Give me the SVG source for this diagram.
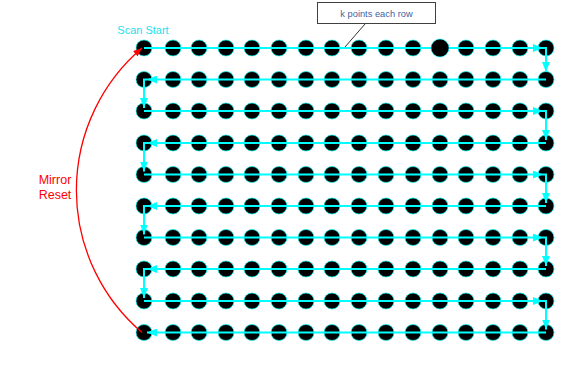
<svg xmlns="http://www.w3.org/2000/svg" xmlns:xlink="http://www.w3.org/1999/xlink" width="581" height="369" viewBox="0 0 581 369">
<style>
.dot{fill:#000;stroke:#00FFFF;stroke-width:0.7}
.scan{fill:none;stroke:#00FFFF;stroke-width:2}
.reset{fill:none;stroke:#FF0000;stroke-width:1.3}
.lbl{font-family:"Liberation Sans",Arial,sans-serif}
</style>
<defs>
<circle id="d" class="dot" r="8"/>
<marker id="ac" viewBox="0 0 10 8" refX="10" refY="4" markerWidth="10" markerHeight="8" orient="auto" markerUnits="userSpaceOnUse"><path d="M0,0 L10,4 L0,8 z" fill="#00FFFF"/></marker>
<marker id="ar" viewBox="0 0 10 8" refX="10" refY="4" markerWidth="10" markerHeight="7" orient="auto" markerUnits="userSpaceOnUse"><path d="M0,0 L10,4 L0,8 z" fill="#FF0000"/></marker>
</defs>
<rect width="581" height="369" fill="#fff"/>
<g id="row1" transform="translate(0,48)"><use href="#d" x="144"/><use href="#d" x="173"/><use href="#d" x="199"/><use href="#d" x="226"/><use href="#d" x="252"/><use href="#d" x="279"/><use href="#d" x="306"/><use href="#d" x="332"/><use href="#d" x="359"/><use href="#d" x="386"/><use href="#d" x="413"/><use href="#d" x="466"/><use href="#d" x="493"/><use href="#d" x="520"/><use href="#d" x="546"/></g>
<g id="row2" transform="translate(0,79.5)"><use href="#d" x="144"/><use href="#d" x="173"/><use href="#d" x="199"/><use href="#d" x="226"/><use href="#d" x="252"/><use href="#d" x="279"/><use href="#d" x="306"/><use href="#d" x="332"/><use href="#d" x="359"/><use href="#d" x="386"/><use href="#d" x="413"/><use href="#d" x="440"/><use href="#d" x="466"/><use href="#d" x="493"/><use href="#d" x="520"/><use href="#d" x="546"/></g>
<g id="row3" transform="translate(0,111)"><use href="#d" x="144"/><use href="#d" x="173"/><use href="#d" x="199"/><use href="#d" x="226"/><use href="#d" x="252"/><use href="#d" x="279"/><use href="#d" x="306"/><use href="#d" x="332"/><use href="#d" x="359"/><use href="#d" x="386"/><use href="#d" x="413"/><use href="#d" x="440"/><use href="#d" x="466"/><use href="#d" x="493"/><use href="#d" x="520"/><use href="#d" x="546"/></g>
<g id="row4" transform="translate(0,143)"><use href="#d" x="144"/><use href="#d" x="173"/><use href="#d" x="199"/><use href="#d" x="226"/><use href="#d" x="252"/><use href="#d" x="279"/><use href="#d" x="306"/><use href="#d" x="332"/><use href="#d" x="359"/><use href="#d" x="386"/><use href="#d" x="413"/><use href="#d" x="440"/><use href="#d" x="466"/><use href="#d" x="493"/><use href="#d" x="520"/><use href="#d" x="546"/></g>
<g id="row5" transform="translate(0,174.5)"><use href="#d" x="144"/><use href="#d" x="173"/><use href="#d" x="199"/><use href="#d" x="226"/><use href="#d" x="252"/><use href="#d" x="279"/><use href="#d" x="306"/><use href="#d" x="332"/><use href="#d" x="359"/><use href="#d" x="386"/><use href="#d" x="413"/><use href="#d" x="440"/><use href="#d" x="466"/><use href="#d" x="493"/><use href="#d" x="520"/><use href="#d" x="546"/></g>
<g id="row6" transform="translate(0,206)"><use href="#d" x="144"/><use href="#d" x="173"/><use href="#d" x="199"/><use href="#d" x="226"/><use href="#d" x="252"/><use href="#d" x="279"/><use href="#d" x="306"/><use href="#d" x="332"/><use href="#d" x="359"/><use href="#d" x="386"/><use href="#d" x="413"/><use href="#d" x="440"/><use href="#d" x="466"/><use href="#d" x="493"/><use href="#d" x="520"/><use href="#d" x="546"/></g>
<g id="row7" transform="translate(0,237.5)"><use href="#d" x="144"/><use href="#d" x="173"/><use href="#d" x="199"/><use href="#d" x="226"/><use href="#d" x="252"/><use href="#d" x="279"/><use href="#d" x="306"/><use href="#d" x="332"/><use href="#d" x="359"/><use href="#d" x="386"/><use href="#d" x="413"/><use href="#d" x="440"/><use href="#d" x="466"/><use href="#d" x="493"/><use href="#d" x="520"/><use href="#d" x="546"/></g>
<g id="row8" transform="translate(0,269)"><use href="#d" x="144"/><use href="#d" x="173"/><use href="#d" x="199"/><use href="#d" x="226"/><use href="#d" x="252"/><use href="#d" x="279"/><use href="#d" x="306"/><use href="#d" x="332"/><use href="#d" x="359"/><use href="#d" x="386"/><use href="#d" x="413"/><use href="#d" x="440"/><use href="#d" x="466"/><use href="#d" x="493"/><use href="#d" x="520"/><use href="#d" x="546"/></g>
<g id="row9" transform="translate(0,301)"><use href="#d" x="144"/><use href="#d" x="173"/><use href="#d" x="199"/><use href="#d" x="226"/><use href="#d" x="252"/><use href="#d" x="279"/><use href="#d" x="306"/><use href="#d" x="332"/><use href="#d" x="359"/><use href="#d" x="386"/><use href="#d" x="413"/><use href="#d" x="440"/><use href="#d" x="466"/><use href="#d" x="493"/><use href="#d" x="520"/><use href="#d" x="546"/></g>
<g id="row10" transform="translate(0,332.5)"><use href="#d" x="144"/><use href="#d" x="173"/><use href="#d" x="199"/><use href="#d" x="226"/><use href="#d" x="252"/><use href="#d" x="279"/><use href="#d" x="306"/><use href="#d" x="332"/><use href="#d" x="359"/><use href="#d" x="386"/><use href="#d" x="413"/><use href="#d" x="440"/><use href="#d" x="466"/><use href="#d" x="493"/><use href="#d" x="520"/><use href="#d" x="546"/></g>
<g id="connectors">
<g class="scan" marker-end="url(#ac)">
<path d="M144,48 H543"/><path d="M543,48 H546 V72"/>
<path d="M546,79.5 H147"/><path d="M147,79.5 H144 V108"/>
<path d="M144,111 H543"/><path d="M543,111 H546 V140"/>
<path d="M546,143 H147"/><path d="M147,143 H144 V171.5"/>
<path d="M144,174.5 H543"/><path d="M543,174.5 H546 V203"/>
<path d="M546,206 H147"/><path d="M147,206 H144 V234.5"/>
<path d="M144,237.5 H543"/><path d="M543,237.5 H546 V266"/>
<path d="M546,269 H147"/><path d="M147,269 H144 V298"/>
<path d="M144,301 H543"/><path d="M543,301 H546 V329.5"/>
<path d="M546,332.5 H147"/>
</g>
<path class="reset" d="M142,332.5 A187,187 0 0 1 142,48" marker-end="url(#ar)"/>
<path d="M365,24 L345,47" fill="none" stroke="#000" stroke-width="0.8"/>
</g>
<g id="dot-r1c12"><circle cx="440" cy="48" r="9" fill="#000" stroke="#00FFFF" stroke-width="0.6"/></g>
<g id="callout">
<rect x="317.5" y="2.5" width="118" height="21" fill="#fff" stroke="#404040" stroke-width="1"/>
<text class="lbl" x="376.5" y="16.5" font-size="9.3" fill="#3F5F9F" text-anchor="middle">k points each row</text>
</g>
<g id="scan-start"><text class="lbl" x="143" y="33.5" font-size="11" fill="#22E0EE" text-anchor="middle">Scan Start</text></g>
<g id="mirror-reset"><text class="lbl" font-size="12.5" fill="#FF0000" text-anchor="middle"><tspan x="55" y="184">Mirror</tspan><tspan x="55" y="198.5">Reset</tspan></text></g>
</svg>
